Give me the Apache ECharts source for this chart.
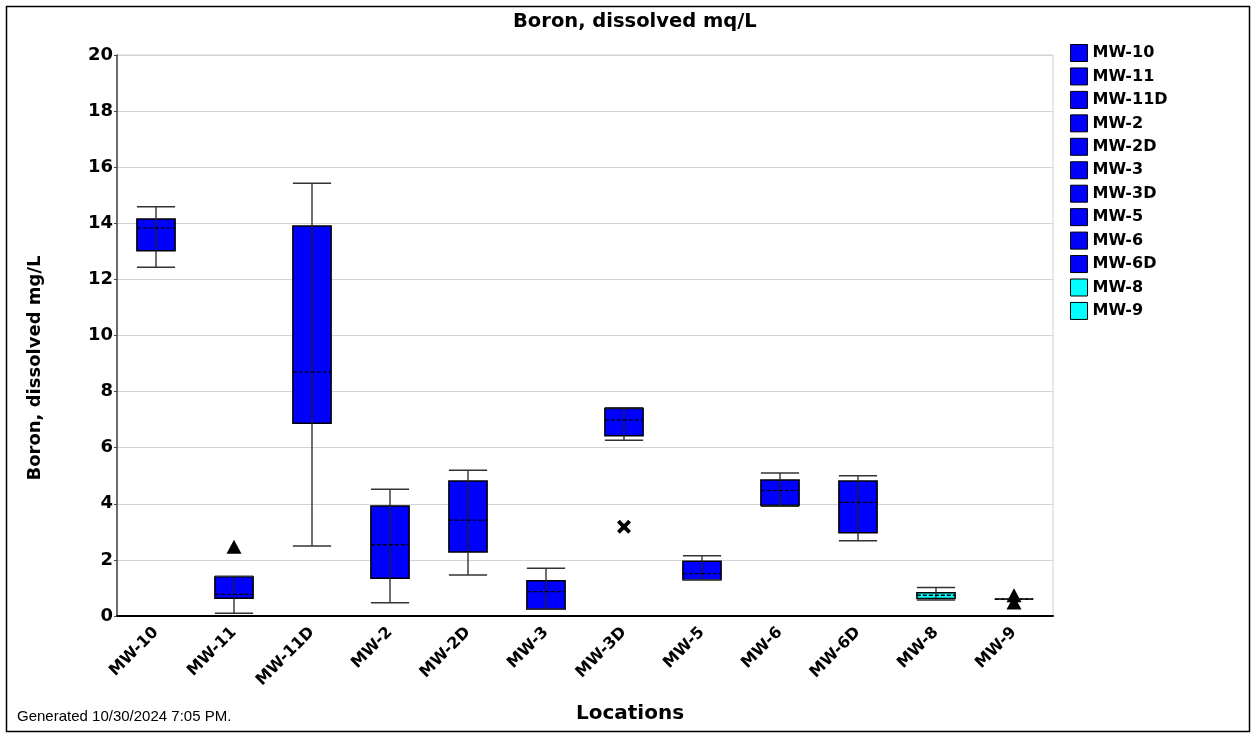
<!DOCTYPE html>
<html>
<head>
<meta charset="utf-8">
<script src="https://cdn.jsdelivr.net/npm/echarts@6/dist/echarts.min.js"></script>
<style>
html,body{margin:0;padding:0;background:#fff;}
#chart{width:1254px;height:734px;}
</style>
</head>
<body>
<div id="chart"></div>
<script>
// ---- data ----
const categories = ['MW-10','MW-11','MW-11D','MW-2','MW-2D','MW-3','MW-3D','MW-5','MW-6','MW-6D','MW-8','MW-9'];
const whiskerLow  = [12.43, 0.10, 2.50, 0.47, 1.46, 0.24, 6.27, 1.29, 3.91, 2.68, 0.57, 0.60];
const q1          = [13.02, 0.63, 6.87, 1.35, 2.28, 0.24, 6.43, 1.29, 3.95, 2.97, 0.62, 0.60];
const median      = [13.84, 0.77, 8.70, 2.54, 3.42, 0.87, 6.98, 1.51, 4.47, 4.05, 0.74, 0.60];
const q3          = [14.15, 1.40, 13.90, 3.92, 4.81, 1.26, 7.40, 1.95, 4.85, 4.81, 0.83, 0.60];
const whiskerHigh = [14.59, 1.42, 15.43, 4.52, 5.20, 1.70, 7.42, 2.15, 5.10, 5.00, 1.02, 0.60];
// outliers: [category, value]
const outlierTriangles = [['MW-11', 2.47], ['MW-9', 0.74], ['MW-9', 0.48]];
const outlierCrosses   = [['MW-3D', 3.18]];
const yTicks = [0, 2, 4, 6, 8, 10, 12, 14, 16, 18, 20];

// ---- styles ----
const boxColors = ['#0000FF','#0000FF','#0000FF','#0000FF','#0000FF','#0000FF','#0000FF','#0000FF','#0000FF','#0000FF','#00FFFF','#00FFFF'];
const BOLDFONT = '"DejaVu Sans", Verdana, sans-serif';
const FONT = '"Liberation Sans", Arial, sans-serif';

function renderBox(params, api) {
  const x = api.value(0);
  const lo = api.coord([x, api.value(1)]);
  const b1 = api.coord([x, api.value(2)]);
  const md = api.coord([x, api.value(3)]);
  const b3 = api.coord([x, api.value(4)]);
  const hi = api.coord([x, api.value(5)]);
  const w = api.size([1, 0])[0] * 0.49;
  const cx = lo[0];
  const color = api.visual('color');
  return {
    type: 'group',
    children: [
      { type: 'rect', shape: { x: cx - w / 2, y: b3[1], width: w, height: b1[1] - b3[1] },
        style: { fill: color, stroke: '#000', lineWidth: 1.5 } },
      { type: 'line', shape: { x1: cx, y1: lo[1], x2: cx, y2: hi[1] },
        style: { stroke: '#222', lineWidth: 1.3 } },
      { type: 'line', shape: { x1: cx - w / 2, y1: hi[1], x2: cx + w / 2, y2: hi[1] },
        style: { stroke: '#333', lineWidth: 1.5 } },
      { type: 'line', shape: { x1: cx - w / 2, y1: lo[1], x2: cx + w / 2, y2: lo[1] },
        style: { stroke: '#333', lineWidth: 1.5 } },
      { type: 'line', shape: { x1: cx - w / 2, y1: md[1], x2: cx + w / 2, y2: md[1] },
        style: { stroke: '#000', lineWidth: 1.3, lineDash: [4, 2] } }
    ]
  };
}

const boxSeries = categories.map((c, i) => ({
  name: c,
  type: 'custom',
  renderItem: renderBox,
  color: boxColors[i],
  itemStyle: { color: boxColors[i] },
  encode: { x: 0, y: [1, 2, 3, 4, 5] },
  data: [[i, whiskerLow[i], q1[i], median[i], q3[i], whiskerHigh[i]]],
  z: 3
}));

const crossPath = 'path://M0,2 L2,0 L5,3 L8,0 L10,2 L7,5 L10,8 L8,10 L5,7 L2,10 L0,8 L3,5 Z';

const chart = echarts.init(document.getElementById('chart'), null, { renderer: 'canvas' });
chart.setOption({
  animation: false,
  backgroundColor: '#fff',
  title: {
    text: 'Boron, dissolved mq/L',
    left: 513, top: 12, padding: 0,
    textStyle: { fontFamily: BOLDFONT, fontSize: 19.5, fontWeight: 'bold', color: '#000' }
  },
  legend: {
    orient: 'vertical',
    left: 1070, top: 44, padding: 0,
    itemWidth: 17, itemHeight: 17, itemGap: 5.45,
    icon: 'rect',
    data: categories,
    selectedMode: false,
    itemStyle: { borderColor: '#000', borderWidth: 1 },
    textStyle: { fontFamily: BOLDFONT, fontSize: 16, fontWeight: 'bold', color: '#000', lineHeight: 17 }
  },
  grid: {
    left: 117, right: 201, top: 55, bottom: 118,
    show: true, borderColor: '#d0d0d0', borderWidth: 1
  },
  xAxis: {
    type: 'category',
    data: categories,
    boundaryGap: true,
    axisLine: { show: true, lineStyle: { color: '#000', width: 2 } },
    axisTick: { show: false },
    axisLabel: {
      rotate: 45, interval: 0, margin: 14,
      fontFamily: BOLDFONT, fontSize: 16, fontWeight: 'bold', color: '#000'
    },
    splitLine: { show: false }
  },
  yAxis: {
    type: 'value',
    min: yTicks[0], max: yTicks[yTicks.length - 1], interval: 2,
    axisLine: { show: true, lineStyle: { color: '#444', width: 1.5 } },
    axisTick: { show: true, length: 3, lineStyle: { color: '#444' } },
    axisLabel: { margin: 4, fontFamily: BOLDFONT, fontSize: 18, fontWeight: 'bold', color: '#000' },
    splitLine: { show: true, lineStyle: { color: '#d3d3d3', width: 1 } }
  },
  graphic: [
    { type: 'rect', shape: { x: 6.5, y: 6.5, width: 1243, height: 725 },
      style: { fill: null, stroke: '#000', lineWidth: 1.5 }, silent: true },
    { type: 'text', x: 35, y: 368, rotation: Math.PI / 2,
      style: { text: 'Boron, dissolved mg/L', fontFamily: BOLDFONT, fontSize: 18, fontWeight: 'bold', fill: '#000',
               align: 'center', verticalAlign: 'middle' } },
    { type: 'text', x: 630, y: 714,
      style: { text: 'Locations', fontFamily: BOLDFONT, fontSize: 20, fontWeight: 'bold', fill: '#000',
               align: 'center', verticalAlign: 'middle' } },
    { type: 'text', x: 17, y: 717,
      style: { text: 'Generated 10/30/2024 7:05 PM.', fontFamily: FONT, fontSize: 15, fill: '#000',
               align: 'left', verticalAlign: 'middle' } }
  ],
  series: boxSeries.concat([
    {
      name: 'outlierTri', type: 'scatter', symbol: 'triangle', symbolSize: [15, 14],
      itemStyle: { color: '#000', opacity: 1 }, z: 5,
      data: outlierTriangles
    },
    {
      name: 'outlierX', type: 'scatter', symbol: crossPath, symbolSize: 14,
      itemStyle: { color: '#000', opacity: 1 }, z: 5,
      data: outlierCrosses
    }
  ])
});
</script>
</body>
</html>
